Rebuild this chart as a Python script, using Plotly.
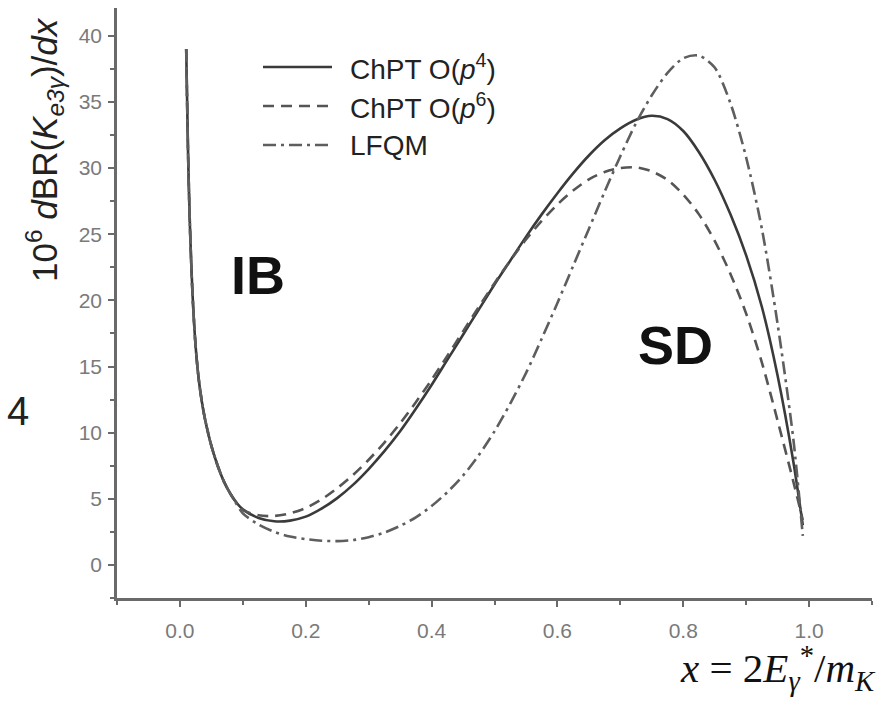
import plotly.graph_objects as go

# ---------------- data ----------------
x_vals = [0.010, 0.013, 0.016, 0.020, 0.025, 0.030, 0.035, 0.040, 0.050, 0.060,
          0.070, 0.080, 0.090,
          0.100, 0.125, 0.150, 0.175, 0.200, 0.225, 0.250, 0.275, 0.300, 0.325,
          0.350, 0.375, 0.400, 0.425, 0.450, 0.475, 0.500, 0.525, 0.550, 0.575,
          0.600, 0.625, 0.650, 0.675, 0.700, 0.725, 0.750, 0.775, 0.800, 0.825,
          0.850, 0.875, 0.900, 0.925, 0.950, 0.975, 0.990]

chpt_p4 = [39.0, 31.0, 25.5, 20.5, 16.5, 14.0, 12.3, 11.0, 9.0, 7.5,
           6.3, 5.4, 4.7,
           4.2, 3.55, 3.3, 3.35, 3.65, 4.25, 5.05, 6.05, 7.25, 8.6,
           10.1, 11.8, 13.6, 15.5, 17.4, 19.3, 21.2, 23.0, 24.8, 26.5,
           28.1, 29.6, 30.95, 32.1, 33.0, 33.65, 33.95, 33.7, 32.8, 31.2,
           29.1, 26.5, 23.4, 19.5, 14.3, 7.8, 3.0]

chpt_p6 = [39.0, 31.0, 25.5, 20.5, 16.5, 14.0, 12.3, 11.0, 9.0, 7.5,
           6.3, 5.4, 4.7,
           4.15, 3.75, 3.7, 3.9, 4.3, 4.95, 5.8, 6.8, 7.95, 9.25,
           10.7, 12.3, 14.0, 15.8, 17.65, 19.5, 21.3, 23.0, 24.6, 26.0,
           27.25, 28.3, 29.15, 29.7, 30.0, 30.05, 29.75, 29.1, 28.0, 26.5,
           24.5, 22.0, 19.0, 15.3, 10.9, 6.3, 3.4]

lfqm = [39.0, 31.0, 25.5, 20.5, 16.5, 14.0, 12.3, 11.0, 9.0, 7.5,
        6.3, 5.4, 4.6,
        3.9, 3.05, 2.5, 2.15, 1.95, 1.83, 1.8, 1.88, 2.1, 2.45,
        2.95, 3.6, 4.45, 5.5, 6.75, 8.3, 10.1, 12.2, 14.5, 17.1,
        19.8, 22.6, 25.4, 28.2, 30.9, 33.4, 35.5, 37.2, 38.3, 38.5,
        37.6, 34.9, 30.8, 25.4, 18.2, 9.5, 2.2]

series_names = ["ChPT O(<i>p</i><sup>4</sup>)", "ChPT O(<i>p</i><sup>6</sup>)", "LFQM"]
x_ticks = [0.0, 0.2, 0.4, 0.6, 0.8, 1.0]
y_ticks = [0, 5, 10, 15, 20, 25, 30, 35, 40]

# ---------------- styling ----------------
W, H = 886, 702
L, R, T, B = 117, 14, 8, 104
styles = [
    dict(color="#3a3a3a", width=2.6, dash="solid"),
    dict(color="#555555", width=2.6, dash="11px,7px"),
    dict(color="#5e5e5e", width=2.6, dash="13px,5px,3px,5px"),
]

fig = go.Figure()
for yv, st, nm in zip([chpt_p4, chpt_p6, lfqm], styles, series_names):
    fig.add_trace(go.Scatter(x=x_vals, y=yv, mode="lines", name=nm,
                             line=dict(color=st["color"], width=st["width"],
                                       dash=st["dash"], shape="spline", smoothing=0.8),
                             showlegend=False))


def px2paper(px, py):
    return (px - L) / (W - L - R), (H - B - py) / (H - T - B)


axis_common = dict(
    showgrid=False, zeroline=False, showline=True, linecolor="#6a6a6a", linewidth=2.5,
    ticks="outside", ticklen=6, tickwidth=2, tickcolor="#6a6a6a",
    tickfont=dict(family="Liberation Sans, Arial", size=21, color="#7a7a7a"),
    mirror=False,
)

fig.update_xaxes(range=[-0.1, 1.1], tickvals=x_ticks,
                 ticktext=[f"{v:.1f}" for v in x_ticks],
                 minor=dict(ticks="outside", ticklen=4, tickwidth=2, tickcolor="#6a6a6a", dtick=0.1,
                            tick0=0.0),
                 ticklabelstandoff=6, **axis_common)
fig.update_yaxes(range=[-2.5, 42.1], tickvals=y_ticks,
                 ticktext=[str(v) for v in y_ticks],
                 minor=dict(ticks="outside", ticklen=4, tickwidth=2, tickcolor="#6a6a6a", dtick=2.5,
                            tick0=0),
                 ticklabelstandoff=2, **axis_common)

annotations = []
shapes = []

# legend drawn by hand (long line samples)
leg_y = [67, 106, 145]
for st, nm, ly in zip(styles, series_names, leg_y):
    x0, y0 = px2paper(263, ly)
    x1, _ = px2paper(332, ly)
    shapes.append(dict(type="line", xref="paper", yref="paper", x0=x0, x1=x1, y0=y0, y1=y0,
                       line=dict(color=st["color"], width=st["width"], dash=st["dash"])))
    tx, ty = px2paper(348, ly)
    annotations.append(dict(xref="paper", yref="paper", x=tx, y=ty, xanchor="left", yanchor="middle",
                            text=nm, showarrow=False,
                            font=dict(family="Liberation Sans, Arial", size=28, color="#222222")))

# region labels
annotations.append(dict(x=0.124, y=21.9, text="<b>IB</b>", showarrow=False,
                        font=dict(family="Liberation Sans, Arial", size=54, color="#111111")))
annotations.append(dict(x=0.788, y=16.6, text="<b>SD</b>", showarrow=False,
                        font=dict(family="Liberation Sans, Arial", size=54, color="#111111")))

# y axis title
ax, ay = px2paper(44, 150)
annotations.append(dict(xref="paper", yref="paper", x=ax, y=ay, textangle=-90,
                        text="10<sup>6</sup> <i>d</i>BR(<i>K</i><sub><i>e3γ</i></sub>)/<i>dx</i>",
                        showarrow=False, xanchor="center", yanchor="middle",
                        font=dict(family="Liberation Sans, Arial", size=35, color="#222222")))

# x axis title
bx, by = px2paper(878, 668)
annotations.append(dict(xref="paper", yref="paper", x=bx, y=by, xanchor="right", yanchor="middle",
                        text="<i>x</i> = 2<i>E</i><sub><i>γ</i></sub><sup>*</sup>/<i>m</i><sub><i>K</i></sub>",
                        showarrow=False,
                        font=dict(family="Liberation Serif, Times New Roman", size=41, color="#111111")))

# cropped fragment at left edge
fx, fy = px2paper(18, 411)
annotations.append(dict(xref="paper", yref="paper", x=fx, y=fy, text="4", showarrow=False,
                        xanchor="center", yanchor="middle",
                        font=dict(family="Liberation Sans, Arial", size=40, color="#222222")))

fig.update_layout(
    width=W, height=H,
    margin=dict(l=L, r=R, t=T, b=B, autoexpand=False),
    paper_bgcolor="white", plot_bgcolor="white",
    annotations=annotations, shapes=shapes,
    showlegend=False,
)

fig.write_html("out.html")
